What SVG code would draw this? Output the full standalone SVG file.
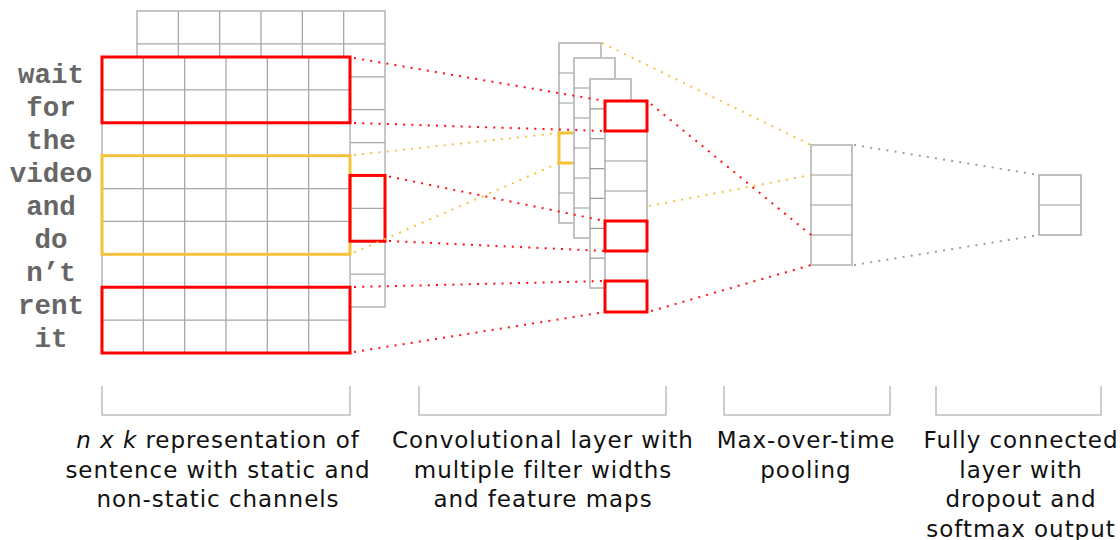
<svg xmlns="http://www.w3.org/2000/svg" width="1120" height="540" viewBox="0 0 1120 540">
  <style>
    .grid { fill: #fff; stroke: #b4b4b4; stroke-width: 1.5; }
    .gline { fill: none; stroke: #a8a8a8; stroke-width: 1.3; }
    .fmap { fill: #fff; stroke: #c2c2c2; stroke-width: 2; }
    .fline { fill: none; stroke: #9a9a9a; stroke-width: 1.2; }
    .red { fill: none; stroke: #ff0000; stroke-width: 3; }
    .yel { fill: none; stroke: #f4c23c; stroke-width: 3; }
    .dot { fill: none; stroke-width: 2; stroke-dasharray: 2 6.2; }
    .dr { stroke: #ff1010; }
    .dy { stroke: #f4c23c; }
    .dg { stroke: #9c9c9c; }
    .word { font-family: "Liberation Mono", "Courier New", monospace; font-weight: bold; font-size: 27.5px; fill: #666; text-anchor: middle; }
    .label { font-family: "DejaVu Sans", Verdana, sans-serif; font-size: 23px; letter-spacing: 0.95px; fill: #111; text-anchor: middle; }
    .bracket { fill: none; stroke: #bdbdbd; stroke-width: 1.5; }
  </style>

  <!-- static channel (back) -->
  <g id="channel-static">
    <rect class="grid" x="137" y="11" width="248" height="296"/>
    <path class="gline" d="M178.33,11V307M219.67,11V307M261,11V307M302.33,11V307M343.67,11V307
      M137,43.89H385M137,76.78H385M137,109.67H385M137,142.56H385M137,175.44H385M137,208.33H385M137,241.22H385M137,274.11H385"/>
  </g>

  <!-- non-static channel (front) -->
  <g id="channel-nonstatic">
    <rect class="grid" x="102" y="57" width="248" height="296"/>
    <path class="gline" d="M143.33,57V353M184.67,57V353M226,57V353M267.33,57V353M308.67,57V353
      M102,89.89H350M102,122.78H350M102,155.67H350M102,188.56H350M102,221.44H350M102,254.33H350M102,287.22H350M102,320.11H350"/>
  </g>

  <!-- words of the sentence -->
  <g id="words">
    <text class="word" x="51" y="83">wait</text>
    <text class="word" x="51" y="116">for</text>
    <text class="word" x="51" y="149">the</text>
    <text class="word" x="51" y="182">video</text>
    <text class="word" x="51" y="215">and</text>
    <text class="word" x="51" y="248">do</text>
    <text class="word" x="51" y="281">n’t</text>
    <text class="word" x="51" y="314">rent</text>
    <text class="word" x="51" y="347">it</text>
  </g>

  <!-- filter windows over the sentence matrix -->
  <g id="filters">
    <rect class="red" x="102" y="57" width="248" height="65.78"/>
    <rect class="yel" x="102" y="155.67" width="248" height="98.66"/>
    <rect class="red" x="102" y="287.22" width="248" height="65.78"/>
    <rect class="red" x="350" y="175.44" width="35" height="65.78"/>
  </g>

  <!-- convolutional feature maps -->
  <g id="feature-map-1">
    <rect class="fmap" x="559" y="43" width="42" height="180"/>
    <path class="fline" d="M559,73H601M559,103H601M559,133H601M559,163H601M559,193H601"/>
    <rect class="yel" x="559" y="133" width="42" height="30"/>
  </g>
  <g id="feature-map-2">
    <rect class="fmap" x="574" y="58" width="41" height="180"/>
    <path class="fline" d="M574,88H615M574,118H615M574,148H615M574,178H615M574,208H615"/>
  </g>
  <g id="feature-map-3">
    <rect class="fmap" x="590" y="79" width="41" height="209"/>
    <path class="fline" d="M590,108.9H631M590,138.7H631M590,168.6H631M590,198.4H631M590,228.3H631M590,258.1H631"/>
  </g>
  <g id="feature-map-4">
    <rect class="fmap" x="605" y="101" width="42" height="211"/>
    <path class="fline" d="M605,131H647M605,161H647M605,191H647M605,221H647M605,251H647M605,281H647"/>
    <rect class="red" x="605" y="101" width="42" height="30"/>
    <rect class="red" x="605" y="221" width="42" height="30"/>
    <rect class="red" x="605" y="281" width="42" height="31"/>
  </g>

  <!-- max-over-time pooling -->
  <g id="pooling">
    <rect class="fmap" x="811" y="145" width="41" height="120"/>
    <path class="fline" d="M811,175H852M811,205H852M811,235H852"/>
  </g>

  <!-- fully connected output -->
  <g id="output">
    <rect class="fmap" x="1039" y="175" width="42" height="60" style="stroke:#a8a8a8;stroke-width:1.5"/>
    <path class="fline" d="M1039,205H1081"/>
  </g>

  <!-- connectors -->
  <g id="connectors">
    <path class="dot dr" d="M354,58L605,101"/>
    <path class="dot dr" d="M354,123L605,131"/>
    <path class="dot dr" d="M389,176.5L605,221"/>
    <path class="dot dr" d="M389,241L605,251"/>
    <path class="dot dr" d="M354,287L605,281"/>
    <path class="dot dr" d="M354,352L605,312"/>
    <path class="dot dr" d="M651,104L811,235"/>
    <path class="dot dr" d="M651,311L811,265"/>
    <path class="dot dy" d="M354,155L559,133"/>
    <path class="dot dy" d="M354,252.5L559,163"/>
    <path class="dot dy" d="M602,43L811,145"/>
    <path class="dot dy" d="M649,206L811,175"/>
    <path class="dot dg" d="M854,145L1039,175"/>
    <path class="dot dg" d="M854,265L1039,235"/>
  </g>

  <!-- stage brackets and captions -->
  <g id="caption-input">
    <path class="bracket" d="M102,386V415H350V386"/>
    <text class="label" x="218" y="448"><tspan font-style="italic">n x k</tspan> representation of</text>
    <text class="label" x="218" y="477.5">sentence with static and</text>
    <text class="label" x="218" y="507">non-static channels</text>
  </g>
  <g id="caption-conv">
    <path class="bracket" d="M419,386V415H666V386"/>
    <text class="label" x="543" y="448">Convolutional layer with</text>
    <text class="label" x="543" y="477.5">multiple filter widths</text>
    <text class="label" x="543" y="507">and feature maps</text>
  </g>
  <g id="caption-pool">
    <path class="bracket" d="M724,386V415H890V386"/>
    <text class="label" x="806" y="448">Max-over-time</text>
    <text class="label" x="806" y="477.5">pooling</text>
  </g>
  <g id="caption-fc">
    <path class="bracket" d="M936,386V415H1101V386"/>
    <text class="label" x="1021" y="448">Fully connected</text>
    <text class="label" x="1021" y="477.5">layer with</text>
    <text class="label" x="1021" y="507">dropout and</text>
    <text class="label" x="1021" y="536.5">softmax output</text>
  </g>
</svg>
